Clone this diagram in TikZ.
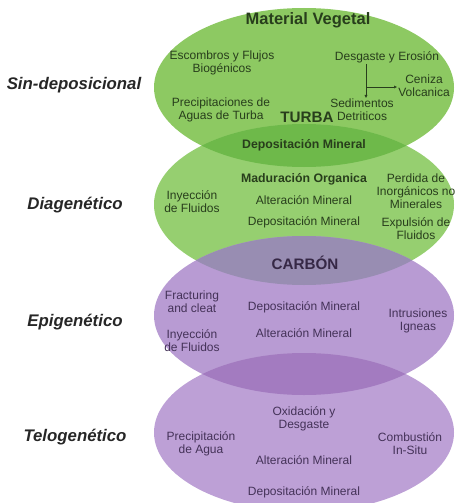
\documentclass[tikz,border=0pt]{standalone}
\usepackage{fontspec}
\setmainfont{Liberation Sans}
\usepackage{xcolor}
\usetikzlibrary{arrows.meta,positioning}

\definecolor{vegfill}{RGB}{141,201,98}
\definecolor{diafill}{RGB}{150,207,112}
\definecolor{epifill}{RGB}{184,155,211}
\definecolor{telfill}{RGB}{189,160,214}
\definecolor{lensgreen}{RGB}{110,185,74}
\definecolor{lensgray}{RGB}{152,141,178}
\definecolor{lenspurple}{RGB}{163,123,192}
\definecolor{gtext}{RGB}{40,62,28}
\definecolor{ptext}{RGB}{68,50,88}

\begin{document}
\begin{tikzpicture}[x=1pt,y=-1pt,>={Latex[length=3pt,width=3pt]},
  txt/.style={align=center,inner sep=1pt,font=\fontsize{12}{12.8}\selectfont},
  hdr/.style={align=center,inner sep=1pt,font=\fontsize{12.3}{14}\selectfont\bfseries},
  big/.style={inner sep=1pt,font=\fontsize{15.2}{17}\selectfont\bfseries},
  stage/.style={inner sep=1pt,text=black!85,font=\fontsize{16.8}{19}\selectfont\bfseries\itshape}]
  \useasboundingbox (0,0) rectangle (455,503);
  % elipses
  \fill[vegfill] (304,87.5) ellipse [x radius=150, y radius=79.5];
  \fill[diafill] (304,204.5) ellipse [x radius=150, y radius=80.5];
  \fill[epifill] (304,315.5) ellipse [x radius=150, y radius=79.5];
  \fill[telfill] (304,432.5) ellipse [x radius=150, y radius=79.5];
  % traslapes
  \begin{scope}
    \clip (304,87.5) ellipse [x radius=150, y radius=79.5];
    \fill[lensgreen] (304,204.5) ellipse [x radius=150, y radius=80.5];
  \end{scope}
  \begin{scope}
    \clip (304,204.5) ellipse [x radius=150, y radius=80.5];
    \fill[lensgray] (304,315.5) ellipse [x radius=150, y radius=79.5];
  \end{scope}
  \begin{scope}
    \clip (304,315.5) ellipse [x radius=150, y radius=79.5];
    \fill[lenspurple] (304,432.5) ellipse [x radius=150, y radius=79.5];
  \end{scope}

  % etapas
  \node[stage] (sindep) at (74,85) {Sin-deposicional};
  \node[stage] (diag) at (75,205) {Diagenético};
  \node[stage] (epig) at (75,322) {Epigenético};
  \node[stage] (telog) at (75,437) {Telogenético};

  % sin-deposicional
  \begin{scope}[text=gtext]
  \node[hdr,font=\fontsize{16.5}{18}\selectfont\bfseries] (matveg) at (308,20) {Material Vegetal};
  \node[txt] (escomb) at (222,63) {Escombros y Flujos\\Biogénicos};
  \node[txt] (precip) at (221,110) {Precipitaciones de\\Aguas de Turba};
  \node[big] (turba) at (307,117) {TURBA};
  \node[txt] (desg) at (387,57) {Desgaste y Erosión};
  \node[txt] (ceniza) at (424,86) {Ceniza\\Volcanica};
  \node[txt] (sedim) at (362,110) {Sedimentos\\Detriticos};
  \coordinate (fork) at (366,87);
  \draw[gtext,thin] (desg.south -| fork) -- (fork);
  \draw[gtext,thin,->] (fork) -- (sedim.north -| fork);
  \draw[gtext,thin,->] (fork) -- (ceniza.west |- fork);
  \node[hdr] (depmin1) at (304,145) {Depositación Mineral};
  \end{scope}

  % diagenetico
  \begin{scope}[text=gtext]
  \node[hdr] (madur) at (304,179) {Maduración Organica};
  \node[txt] (alter2) at (304,200) {Alteración Mineral};
  \node[txt] (depmin2) at (304,222) {Depositación Mineral};
  \node[txt] (inyec2) at (192,202) {Inyección\\de Fluidos};
  \node[txt] (perdida) at (416,191) {Perdida de\\Inorgánicos no\\Minerales};
  \node[txt] (expul) at (416,229) {Expulsión de\\Fluidos};
  \end{scope}
  \node[big,text=ptext!80!black] (carbon) at (305,263) {CARBÓN};

  % epigenetico
  \begin{scope}[text=ptext]
  \node[txt] (fract) at (192,302) {Fracturing\\and cleat};
  \node[txt] (inyec3) at (192,341) {Inyección\\de Fluidos};
  \node[txt] (depmin3) at (304,307) {Depositación Mineral};
  \node[txt] (alter3) at (304,333) {Alteración Mineral};
  \node[txt] (intrus) at (418,321) {Intrusiones\\Igneas};
  \end{scope}

  % telogenetico
  \begin{scope}[text=ptext]
  \node[txt] (oxid) at (304,419) {Oxidación y\\Desgaste};
  \node[txt] (precag) at (201,444) {Precipitación\\de Agua};
  \node[txt] (alter4) at (304,460) {Alteración Mineral};
  \node[txt] (depmin4) at (304,492) {Depositación Mineral};
  \node[txt] (combus) at (410,444) {Combustión\\In-Situ};
  \end{scope}
\end{tikzpicture}
\end{document}
